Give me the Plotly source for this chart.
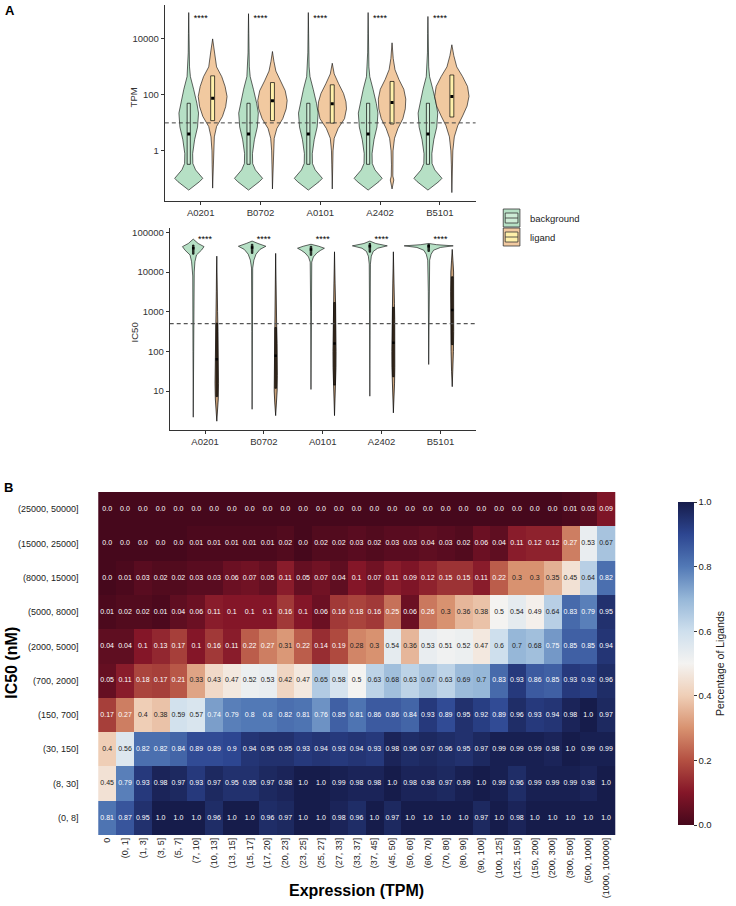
import plotly.graph_objects as go

W, H = 736, 906

ALLELES = ["A0201", "B0702", "A0101", "A2402", "B5101"]

# ---------------- Panel A (top): TPM violins, log10 levels & half-widths (px)
BG_TPM_LEVELS = [-1.4, -1.25, -1.1, -0.98, -0.85, -0.68, -0.45, -0.1, 0.4, 0.85, 1.35, 1.7, 2.2, 2.65, 3.0, 3.5, 4.2]
BG_TPM_WIDTH = [0, 6, 11, 14.3, 11, 7, 4.2, 4, 6, 9, 10, 8.3, 5, 1.7, 0.8, 0.5, 0.3]
BG_TPM_TOP = [4.94, 4.9, 4.94, 4.94, 4.8]
BG_TPM_BOX = [[-0.48, 0.6, 1.7]] * 5

LIG_TPM_LEVELS = [
    [-1.33, -0.5, 0.0, 0.5, 0.87, 1.23, 1.58, 1.94, 2.3, 2.65, 3.0, 3.37, 3.6, 4.0],
    [-1.36, -0.5, 0.0, 0.45, 0.8, 1.15, 1.5, 1.8, 2.15, 2.5, 2.85, 3.2, 3.55],
    [-1.36, -0.5, 0.0, 0.45, 0.8, 1.15, 1.5, 1.75, 2.05, 2.4, 2.75, 3.13],
    [-1.36, -1.2, -1.04, -0.9, -0.5, 0.0, 0.45, 0.8, 1.15, 1.5, 1.85, 2.2, 2.55, 2.9, 3.3, 3.86],
    [-1.49, -0.5, 0.0, 0.5, 0.9, 1.25, 1.6, 1.95, 2.3, 2.65, 3.0, 3.4, 3.79],
]
LIG_TPM_WIDTH = [
    [0, 0.5, 0.7, 1.7, 4, 10, 13.3, 14.7, 12.7, 9.3, 4, 2.7, 1.7, 0],
    [0, 0.5, 0.8, 1.8, 4.5, 10.5, 14, 15, 13, 8, 3.5, 1.5, 0],
    [0, 0.5, 0.8, 2, 6, 12.5, 14.5, 14, 11.5, 6.5, 2, 0],
    [0, 1.2, 1.8, 0.8, 0.6, 1, 2.5, 6, 11, 13.5, 14, 12, 7, 3, 1.2, 0],
    [0, 0.5, 1, 2.5, 6, 11, 15.5, 17.5, 16, 11, 5, 2, 0],
]
LIG_TPM_BOX = [[1.08, 1.88, 2.68], [1.08, 1.79, 2.44], [0.99, 1.68, 2.36], [0.96, 1.73, 2.48], [1.21, 1.94, 2.71]]
TPM_THRESHOLD = 10

# ---------------- Panel A (bottom): IC50 violins
BG_IC50_LEVELS = [
    [0.34, 2.0, 3.9, 4.0, 4.26, 4.43, 4.55, 4.64, 4.72, 4.83],
    [0.54, 2.5, 4.1, 4.3, 4.45, 4.57, 4.65, 4.72, 4.78],
    [1.04, 3.0, 4.25, 4.38, 4.48, 4.55, 4.6, 4.65, 4.7],
    [0.87, 3.0, 4.2, 4.4, 4.52, 4.6, 4.66, 4.72, 4.78],
    [1.67, 3.5, 4.3, 4.45, 4.55, 4.62, 4.66, 4.69, 4.72],
]
BG_IC50_WIDTH = [
    [0, 0.3, 0.5, 1.0, 1.7, 3.3, 8.3, 11, 5, 0],
    [0, 0.3, 0.6, 1.8, 4, 8, 14, 6, 0],
    [0, 0.3, 0.8, 2.5, 6, 10, 13.7, 8, 0],
    [0, 0.3, 0.6, 1.5, 3.5, 8, 17.8, 6, 0],
    [0, 0.4, 1, 2.5, 5, 12, 25, 8, 0],
]
BG_IC50_BOX = [[4.45, 4.6, 4.68], [4.47, 4.62, 4.7], [4.42, 4.57, 4.65], [4.5, 4.65, 4.72], [4.52, 4.65, 4.7]]

LIG_IC50_LEVELS = [
    [0.24, 0.5, 0.8, 1.2, 1.6, 2.0, 2.5, 3.0, 3.5, 4.0, 4.4],
    [0.38, 0.7, 1.0, 1.4, 1.8, 2.2, 2.7, 3.2, 3.8, 4.47],
    [0.38, 0.8, 1.2, 1.6, 2.0, 2.4, 2.8, 3.2, 3.7, 4.1, 4.51],
    [0.45, 0.8, 1.2, 1.6, 2.0, 2.4, 2.8, 3.2, 3.7, 4.1, 4.51],
    [1.11, 1.5, 2.0, 2.5, 3.0, 3.5, 4.0, 4.3, 4.57],
]
LIG_IC50_WIDTH = [
    [0, 0.9, 1.5, 1.8, 1.8, 1.6, 1.2, 0.8, 0.5, 0.3, 0],
    [0, 0.9, 1.5, 1.8, 1.8, 1.5, 1.0, 0.6, 0.3, 0],
    [0, 0.7, 1.2, 1.5, 1.6, 1.6, 1.4, 1.1, 0.6, 0.3, 0],
    [0, 0.7, 1.2, 1.5, 1.6, 1.6, 1.4, 1.1, 0.6, 0.3, 0],
    [0, 0.7, 1.2, 1.5, 1.7, 1.7, 1.4, 0.7, 0],
]
LIG_IC50_BOX = [[0.86, 1.8, 2.71], [1.07, 1.89, 2.6], [1.15, 2.2, 3.23], [1.36, 2.22, 3.11], [2.17, 3.04, 3.88]]
IC50_THRESHOLD = 500

SIG_LABEL = "****"
SIG_TPM_Y = 10 ** 4.72
SIG_IC50_Y = 10 ** 4.81

# ---------------- Panel B: heatmap
COLS = ["0", "(0, 1]", "(1, 3]", "(3, 5]", "(5, 7]", "(7, 10]", "(10, 13]", "(13, 15]", "(15, 17]",
        "(17, 20]", "(20, 23]", "(23, 25]", "(25, 27]", "(27, 33]", "(33, 37]", "(37, 45]", "(45, 50]",
        "(50, 60]", "(60, 70]", "(70, 80]", "(80, 90]", "(90, 100]", "(100, 125]", "(125, 150]",
        "(150, 200]", "(200, 300]", "(300, 500]", "(500, 1000]", "(1000, 100000]"]
ROWS = ["(25000, 50000]", "(15000, 25000]", "(8000, 15000]", "(5000, 8000]", "(2000, 5000]",
        "(700, 2000]", "(150, 700]", "(30, 150]", "(8, 30]", "(0, 8]"]

R_25000_50000 = [0.0] * 26 + [0.01, 0.03, 0.09]
R_15000_25000 = [0.0, 0.0, 0.0, 0.0, 0.0, 0.01, 0.01, 0.01, 0.01, 0.01, 0.02, 0.0, 0.02, 0.02, 0.03,
                 0.02, 0.03, 0.03, 0.04, 0.03, 0.02, 0.06, 0.04, 0.11, 0.12, 0.12, 0.27, 0.53, 0.67]
R_8000_15000 = [0.0, 0.01, 0.03, 0.02, 0.02, 0.03, 0.03, 0.06, 0.07, 0.05, 0.11, 0.05, 0.07, 0.04, 0.1,
                0.07, 0.11, 0.09, 0.12, 0.15, 0.15, 0.11, 0.22, 0.3, 0.3, 0.35, 0.45, 0.64, 0.82]
R_5000_8000 = [0.01, 0.02, 0.02, 0.01, 0.04, 0.06, 0.11, 0.1, 0.1, 0.1, 0.16, 0.1, 0.06, 0.16, 0.18,
               0.16, 0.25, 0.06, 0.26, 0.3, 0.36, 0.38, 0.5, 0.54, 0.49, 0.64, 0.83, 0.79, 0.95]
R_2000_5000 = [0.04, 0.04, 0.1, 0.13, 0.17, 0.1, 0.16, 0.11, 0.22, 0.27, 0.31, 0.22, 0.14, 0.19, 0.28,
               0.3, 0.54, 0.36, 0.53, 0.51, 0.52, 0.47, 0.6, 0.7, 0.68, 0.75, 0.85, 0.85, 0.94]
R_700_2000 = [0.05, 0.11, 0.18, 0.17, 0.21, 0.33, 0.43, 0.47, 0.52, 0.53, 0.42, 0.47, 0.65, 0.58, 0.5,
              0.63, 0.68, 0.63, 0.67, 0.63, 0.69, 0.7, 0.83, 0.93, 0.86, 0.85, 0.93, 0.92, 0.96]
R_150_700 = [0.17, 0.27, 0.4, 0.38, 0.59, 0.57, 0.74, 0.79, 0.8, 0.8, 0.82, 0.81, 0.76, 0.85, 0.81,
             0.86, 0.86, 0.84, 0.93, 0.89, 0.95, 0.92, 0.89, 0.96, 0.93, 0.94, 0.98, 1.0, 0.97]
R_30_150 = [0.4, 0.56, 0.82, 0.82, 0.84, 0.89, 0.89, 0.9, 0.94, 0.95, 0.95, 0.93, 0.94, 0.93, 0.94,
            0.93, 0.98, 0.96, 0.97, 0.96, 0.95, 0.97, 0.99, 0.99, 0.99, 0.98, 1.0, 0.99, 0.99]
R_8_30 = [0.45, 0.79, 0.93, 0.98, 0.97, 0.93, 0.97, 0.95, 0.95, 0.97, 0.98, 1.0, 1.0, 0.99, 0.98,
          0.98, 1.0, 0.98, 0.98, 0.97, 0.99, 1.0, 0.99, 0.96, 0.99, 0.99, 0.99, 0.98, 1.0]
R_0_8 = [0.81, 0.87, 0.95, 1.0, 1.0, 1.0, 0.96, 1.0, 1.0, 0.96, 0.97, 1.0, 1.0, 0.98, 0.96,
         1.0, 0.97, 1.0, 1.0, 1.0, 1.0, 0.97, 1.0, 0.98, 1.0, 1.0, 1.0, 1.0, 1.0]
Z = [R_25000_50000, R_15000_25000, R_8000_15000, R_5000_8000, R_2000_5000,
     R_700_2000, R_150_700, R_30_150, R_8_30, R_0_8]

CB_TICKS = [0.0, 0.2, 0.4, 0.6, 0.8, 1.0]

# ---------------- styling
FONT = "Liberation Sans, Arial, sans-serif"
GREEN = "rgb(182,224,197)"
ORANGE = "rgb(241,201,160)"
BOX_GREEN = "rgb(205,236,214)"
BOX_ORANGE = "rgb(255,240,170)"
AXC = "#333333"
SCALE = [
    [0.0, "rgb(70,8,28)"], [0.1, "rgb(132,22,40)"], [0.2, "rgb(180,80,66)"],
    [0.3, "rgb(216,146,112)"], [0.4, "rgb(239,206,182)"], [0.5, "rgb(244,243,241)"],
    [0.6, "rgb(206,223,237)"], [0.7, "rgb(150,183,216)"], [0.8, "rgb(82,121,182)"],
    [0.9, "rgb(45,70,145)"], [1.0, "rgb(22,28,75)"],
]

def px(x):
    return x / W

def py(y):
    return 1 - y / H

fig = go.Figure()

def vpoly(center, levels, widths, ppu):
    xr = [center + w / ppu for w in widths]
    xl = [center - w / ppu for w in widths][::-1]
    ys = [10 ** l for l in levels]
    return xr + xl, ys + ys[::-1]

def add_violin(center, levels, widths, ppu, fill, xa, ya, lw=0.6):
    xs, ys = vpoly(center, levels, widths, ppu)
    fig.add_trace(go.Scatter(x=xs, y=ys, mode="lines", fill="toself", fillcolor=fill,
                             line=dict(color="black", width=lw), hoverinfo="skip",
                             showlegend=False, xaxis=xa, yaxis=ya))

def add_box(center, box, halfw_px, ppu, fill, xa, ya, msize=3):
    q1, med, q3 = box
    hw = halfw_px / ppu
    fig.add_trace(go.Scatter(x=[center - hw, center + hw, center + hw, center - hw, center - hw],
                             y=[10 ** q1, 10 ** q1, 10 ** q3, 10 ** q3, 10 ** q1],
                             mode="lines", fill="toself", fillcolor=fill,
                             line=dict(color="black", width=0.7), hoverinfo="skip",
                             showlegend=False, xaxis=xa, yaxis=ya))
    fig.add_trace(go.Scatter(x=[center], y=[10 ** med], mode="markers",
                             marker=dict(color="black", size=msize, symbol="square"),
                             hoverinfo="skip", showlegend=False, xaxis=xa, yaxis=ya))

PPU_TOP = 317 / 5.2
PPU_BOT = 312 / 5.2
OFF = 0.2

for i, al in enumerate(ALLELES):
    c = i + 1
    lv = BG_TPM_LEVELS + [BG_TPM_TOP[i]]
    wd = BG_TPM_WIDTH + [0]
    add_violin(c - OFF, lv, wd, PPU_TOP, GREEN, "x", "y")
    add_violin(c + OFF, LIG_TPM_LEVELS[i], LIG_TPM_WIDTH[i], PPU_TOP, ORANGE, "x", "y")
    add_box(c - OFF, BG_TPM_BOX[i], 1.6, PPU_TOP, BOX_GREEN, "x", "y")
    add_box(c + OFF, LIG_TPM_BOX[i], 2.0, PPU_TOP, BOX_ORANGE, "x", "y")

    add_violin(c - OFF, BG_IC50_LEVELS[i], BG_IC50_WIDTH[i], PPU_BOT, GREEN, "x2", "y2")
    add_violin(c + OFF, LIG_IC50_LEVELS[i], LIG_IC50_WIDTH[i], PPU_BOT, "rgb(200,160,120)", "x2", "y2", lw=0.7)
    add_box(c - OFF, BG_IC50_BOX[i], 0.8, PPU_BOT, "rgb(60,70,60)", "x2", "y2", msize=2.5)
    add_box(c + OFF, LIG_IC50_BOX[i], 0.8, PPU_BOT, "rgb(70,52,35)", "x2", "y2", msize=2.5)

# threshold lines
fig.add_trace(go.Scatter(x=[0.4, 5.6], y=[TPM_THRESHOLD] * 2, mode="lines",
                         line=dict(color="#444", width=1, dash="4px,3px"),
                         hoverinfo="skip", showlegend=False, xaxis="x", yaxis="y"))
fig.add_trace(go.Scatter(x=[0.4, 5.6], y=[IC50_THRESHOLD] * 2, mode="lines",
                         line=dict(color="#555", width=1.2, dash="4px,3px"),
                         hoverinfo="skip", showlegend=False, xaxis="x2", yaxis="y2"))
# significance stars
fig.add_trace(go.Scatter(x=list(range(1, 6)), y=[SIG_TPM_Y] * 5, mode="text",
                         text=[SIG_LABEL] * 5, textfont=dict(size=9, color="black", family=FONT),
                         hoverinfo="skip", showlegend=False, xaxis="x", yaxis="y"))
fig.add_trace(go.Scatter(x=list(range(1, 6)), y=[SIG_IC50_Y] * 5, mode="text",
                         text=[SIG_LABEL] * 5, textfont=dict(size=9, color="black", family=FONT),
                         hoverinfo="skip", showlegend=False, xaxis="x2", yaxis="y2"))

# heatmap
fig.add_trace(go.Heatmap(
    z=Z, x=COLS, y=ROWS, zmin=0, zmax=1, colorscale=SCALE, xaxis="x3", yaxis="y3",
    hoverinfo="skip",
    colorbar=dict(x=px(681), xanchor="left", xref="paper", y=py(492), yanchor="top", yref="paper",
                  len=343 / H, lenmode="fraction", thickness=16, thicknessmode="pixels",
                  tickvals=CB_TICKS, ticktext=[f"{t:.1f}" for t in CB_TICKS],
                  ticks="outside", ticklen=3, tickcolor="#333", outlinewidth=0,
                  tickfont=dict(size=9.5, color="#222", family=FONT),
                  title=dict(text="Percentage of Ligands", side="right",
                             font=dict(size=10.5, color="#222", family=FONT)))))

tx, ty, tt, tc = [], [], [], []
for r, row in zip(ROWS, Z):
    for cl, v in zip(COLS, row):
        tx.append(cl)
        ty.append(r)
        tt.append(repr(v))
        tc.append("#222222" if 0.28 <= v <= 0.72 else "#ffffff")
fig.add_trace(go.Scatter(x=tx, y=ty, text=tt, mode="text",
                         textfont=dict(size=7, color=tc, family=FONT),
                         hoverinfo="skip", showlegend=False, xaxis="x3", yaxis="y3"))

axis_common = dict(showgrid=False, zeroline=False, showline=True, linecolor=AXC, linewidth=1,
                   ticks="outside", ticklen=3, tickcolor=AXC,
                   tickfont=dict(size=9.5, color="#333", family=FONT))

fig.update_layout(
    width=W, height=H, margin=dict(l=0, r=0, t=0, b=0),
    paper_bgcolor="white", plot_bgcolor="white", showlegend=False,
    font=dict(family=FONT, color="#222"),
    xaxis=dict(domain=[px(168), px(485)], range=[0.4, 5.6], tickvals=[1, 2, 3, 4, 5],
               ticktext=ALLELES, anchor="y", **axis_common),
    yaxis=dict(domain=[py(201), py(5)], type="log", range=[-1.79, 5.21],
               tickvals=[1, 100, 10000], ticktext=["1", "100", "10000"], anchor="x", **axis_common),
    xaxis2=dict(domain=[px(173), px(485)], range=[0.4, 5.6], tickvals=[1, 2, 3, 4, 5],
                ticktext=ALLELES, anchor="y2", **axis_common),
    yaxis2=dict(domain=[py(430), py(228)], type="log", range=[0.018, 5.11],
                tickvals=[10, 100, 1000, 10000, 100000],
                ticktext=["10", "100", "1000", "10000", "100000"], anchor="x2", **axis_common),
    xaxis3=dict(domain=[px(81), px(646)], anchor="y3", tickangle=-90, showgrid=False,
                zeroline=False, showline=False, ticks="", categoryorder="array", categoryarray=COLS,
                tickfont=dict(size=9, color="#222", family=FONT)),
    yaxis3=dict(domain=[py(835), py(492)], anchor="x3", autorange="reversed", showgrid=False,
                zeroline=False, showline=False, ticks="", categoryorder="array", categoryarray=ROWS,
                tickfont=dict(size=9, color="#222", family=FONT)),
)

annots = [
    dict(x=px(10), y=py(10), text="<b>A</b>", font=dict(size=13, color="black")),
    dict(x=px(9), y=py(487), text="<b>B</b>", font=dict(size=13, color="black")),
    dict(x=px(137), y=py(97), text="TPM", textangle=-90, font=dict(size=9.5, color="#333")),
    dict(x=px(137), y=py(332), text="IC50", textangle=-90, font=dict(size=9.5, color="#333")),
    dict(x=px(11), y=py(663), text="<b>IC50 (nM)</b>", textangle=-90, font=dict(size=16, color="black")),
    dict(x=px(363), y=py(890), text="<b>Expression (TPM)</b>", font=dict(size=16, color="black")),
    dict(x=px(538), y=py(218), text="background", xanchor="left", font=dict(size=9.5, color="#222")),
    dict(x=px(538), y=py(237), text="ligand", xanchor="left", font=dict(size=9.5, color="#222")),
]
for a in annots:
    a.setdefault("xanchor", "center")
    fig.add_annotation(xref="paper", yref="paper", showarrow=False, yanchor="middle",
                       font_family=FONT, **{k: v for k, v in a.items()})

# legend keys (box-plot glyphs)
for y0, fillc, boxc in [(209, GREEN, BOX_GREEN), (228, ORANGE, BOX_ORANGE)]:
    fig.add_shape(type="rect", xref="paper", yref="paper", x0=px(513), x1=px(530),
                  y0=py(y0), y1=py(y0 + 18), fillcolor=fillc, line=dict(color="#333", width=0.8))
    fig.add_shape(type="rect", xref="paper", yref="paper", x0=px(515), x1=px(528),
                  y0=py(y0 + 4), y1=py(y0 + 14), fillcolor=boxc, line=dict(color="#333", width=0.8))
    fig.add_shape(type="line", xref="paper", yref="paper", x0=px(515), x1=px(528),
                  y0=py(y0 + 9), y1=py(y0 + 9), line=dict(color="#333", width=0.8))

fig.write_html("out.html", config={"displayModeBar": False},
               post_script="document.body.style.margin='0';")
